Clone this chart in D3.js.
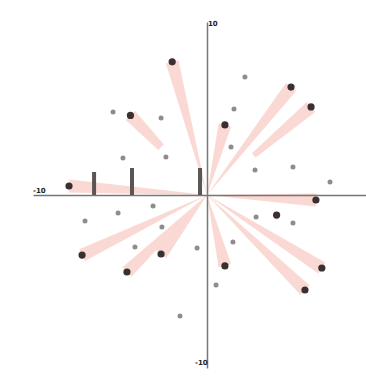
<!DOCTYPE html>
<html><head><meta charset="utf-8">
<script src="https://cdn.jsdelivr.net/npm/d3@7/dist/d3.min.js"></script>
<style>body{margin:0;background:#fff}svg{display:block}</style>
</head><body><svg id="c" width="366" height="376"></svg>
<script>
// spikes (points with wedge): x, y, start fraction of wedge
const spikeX = [-2.0, -4.4, 1.03, 4.83, 5.98, 6.26, -7.93, -7.18, -4.6, -2.64, 1.03, 6.6, 5.63];
const spikeY = [7.7, 4.6, 4.05, 6.24, 5.09, -0.29, 0.52, -3.47, -4.45, -3.41, -4.1, -4.22, -5.49];
const spikeStart = [0, 0.6, 0, 0, 0.45, 0, 0, 0, 0, 0, 0, 0, 0];
// dark points without wedge
const darkX = [4.0];
const darkY = [-1.16];
// small points
const dotX = [-5.4, -2.64, -4.83, -2.36, 2.18, 1.55, 1.38, 2.76, 4.94, 7.07, -7.01, -5.11, -3.1, -4.14, -2.59, 2.82, 4.94, 1.49, -0.57, 0.52, -1.55];
const dotY = [4.8, 4.45, 2.14, 2.20, 6.82, 4.97, 2.77, 1.45, 1.62, 0.75, -1.5, -1.04, -0.64, -3.01, -1.85, -1.27, -1.62, -2.72, -3.06, -5.2, -7.0];
// bars on the negative x side
const barX = [-6.49, -4.31, -0.4];
const barH = [1.33, 1.56, 1.56];
const axisLabels = ["10", "-10", "-10"];

const svg = d3.select("#c");
const x = d3.scaleLinear().domain([-10, 10]).range([33, 381]);
const y = d3.scaleLinear().domain([-10, 10]).range([368, 22]);
const ox = x(0), oy = y(0);

// wedges
const wedges = spikeX.map((v, i) => {
  const px = x(v), py = y(spikeY[i]);
  const dx = px - ox, dy = py - oy, L = Math.hypot(dx, dy);
  const nx = -dy / L, ny = dx / L, w = 6.5;
  const s = spikeStart[i];
  const sx = ox + dx * s, sy = oy + dy * s, sw = w * s;
  return [[sx + nx * sw, sy + ny * sw], [px + nx * w, py + ny * w], [px - nx * w, py - ny * w], [sx - nx * sw, sy - ny * sw]];
});
svg.append("g").selectAll("path").data(wedges).join("path")
  .attr("d", d => d3.line()(d) + "Z")
  .attr("fill", "#f5b3aa").attr("fill-opacity", 0.5);

// axes
svg.append("g").attr("transform", `translate(0,${oy})`)
  .call(d3.axisBottom(x).tickValues([]).tickSizeOuter(0))
  .call(g => g.select(".domain").attr("stroke", "#7a7676").attr("stroke-width", 1.5));
svg.append("g").attr("transform", `translate(${ox},0)`)
  .call(d3.axisLeft(y).tickValues([]).tickSizeOuter(0))
  .call(g => g.select(".domain").attr("stroke", "#7a7676").attr("stroke-width", 1.5));

// bars
svg.append("g").selectAll("rect").data(barX).join("rect")
  .attr("x", d => x(d) - 2).attr("width", 4)
  .attr("y", (d, i) => y(barH[i])).attr("height", (d, i) => oy - y(barH[i]))
  .attr("fill", "#5a5656");

// small dots
svg.append("g").selectAll("circle").data(dotX).join("circle")
  .attr("cx", d => x(d)).attr("cy", (d, i) => y(dotY[i])).attr("r", 2.5)
  .attr("fill", "#918c8c");

// dark points
svg.append("g").selectAll("circle").data(spikeX.concat(darkX)).join("circle")
  .attr("cx", d => x(d)).attr("cy", (d, i) => y(spikeY.concat(darkY)[i])).attr("r", 3.6)
  .attr("fill", "#3a3030");

// axis end labels
const lab = svg.append("g").attr("font-family", "DejaVu Sans").attr("font-size", 7).attr("font-weight", "bold").attr("fill", "#222");
lab.append("text").attr("x", ox + 1).attr("y", y(9.75)).text(axisLabels[0]);
lab.append("text").attr("x", x(-10)).attr("y", oy - 2).text(axisLabels[1]);
lab.append("text").attr("x", ox - 12).attr("y", y(-9.8)).text(axisLabels[2]);
</script></body></html>
